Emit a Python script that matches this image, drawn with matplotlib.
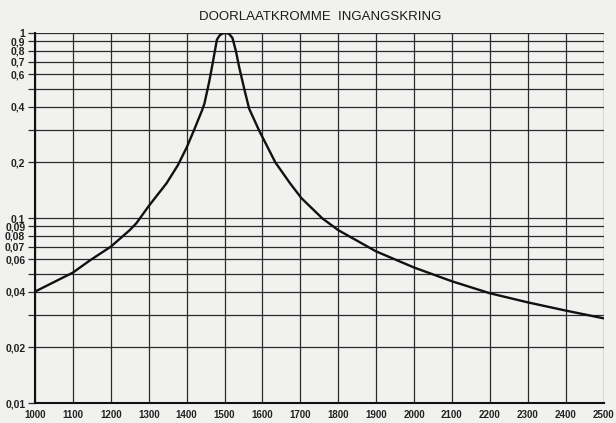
import numpy as np
import matplotlib
matplotlib.use('Agg')
import matplotlib.pyplot as plt
from matplotlib.ticker import FixedLocator, NullLocator

freq = [1000, 1100, 1145, 1200, 1250, 1268, 1300, 1347, 1377, 1400, 1420, 1441,
        1447, 1460, 1469, 1476, 1480, 1487, 1495, 1504, 1512, 1521, 1530, 1539,
        1552, 1565, 1592, 1610, 1634, 1673, 1703, 1758, 1800, 1900, 2000, 2100,
        2200, 2300, 2400, 2500]
gain = [0.040, 0.0507, 0.059, 0.070, 0.086, 0.094, 0.116, 0.154, 0.193, 0.240, 0.300, 0.383,
        0.415, 0.55, 0.69, 0.83, 0.92, 0.97, 0.995, 1.0, 0.99, 0.94, 0.80, 0.65,
        0.50, 0.39, 0.295, 0.250, 0.200, 0.154, 0.128, 0.0996, 0.086, 0.066, 0.054, 0.0455,
        0.0392, 0.035, 0.0316, 0.0287]

xticks = list(range(1000, 2501, 100))
ylines = [1, 0.9, 0.8, 0.7, 0.6, 0.5, 0.4, 0.3, 0.2,
          0.1, 0.09, 0.08, 0.07, 0.06, 0.05, 0.04, 0.03, 0.02, 0.01]
ylabels = {1: '1', 0.9: '0,9', 0.8: '0,8', 0.7: '0,7', 0.6: '0,6', 0.4: '0,4', 0.2: '0,2',
           0.1: '0,1', 0.09: '0,09', 0.08: '0,08', 0.07: '0,07', 0.06: '0,06',
           0.04: '0,04', 0.02: '0,02', 0.01: '0,01'}

paper = '#f1f1ef'
ink = '#2a2a2a'
plt.rcParams['font.family'] = ['Liberation Sans', 'DejaVu Sans']

fig = plt.figure(figsize=(6.16, 4.23), dpi=100, facecolor=paper)
ax = fig.add_axes([35 / 616, 20 / 423, 568.5 / 616, 370 / 423])
ax.set_facecolor(paper)
ax.set_yscale('log')
ax.set_xlim(1000, 2500)
ax.set_ylim(0.01, 1)

for x in xticks:
    ax.axvline(x, color=ink, lw=0.9, zorder=1)
for y in ylines:
    ax.axhline(y, color=ink, lw=0.9, zorder=1)

ax.plot(freq, gain, color='#111111', lw=1.7, zorder=3,
        solid_joinstyle='round', solid_capstyle='round')

ax.xaxis.set_major_locator(FixedLocator(xticks))
ax.xaxis.set_minor_locator(NullLocator())
ax.set_xticklabels([str(x) for x in xticks], fontsize=7, fontweight='bold', color='#222222')
ax.tick_params(axis='x', length=0, pad=5)

ax.yaxis.set_major_locator(FixedLocator(ylines))
ax.yaxis.set_minor_locator(NullLocator())
ax.set_yticklabels([ylabels.get(y, '') for y in ylines], fontsize=7.5, fontweight='bold', color='#222222')
ax.tick_params(axis='y', length=5, width=0.9, color=ink, pad=2)

for side in ['top', 'right']:
    ax.spines[side].set_visible(False)
for side in ['left', 'bottom']:
    ax.spines[side].set_color('#111111')
    ax.spines[side].set_linewidth(1.5)

fig.text(0.52, 0.960, 'DOORLAATKROMME  INGANGSKRING', ha='center', va='center',
         fontsize=9.5, color='#1a1a1a')

fig.savefig('out.png', dpi=100, facecolor=paper)
